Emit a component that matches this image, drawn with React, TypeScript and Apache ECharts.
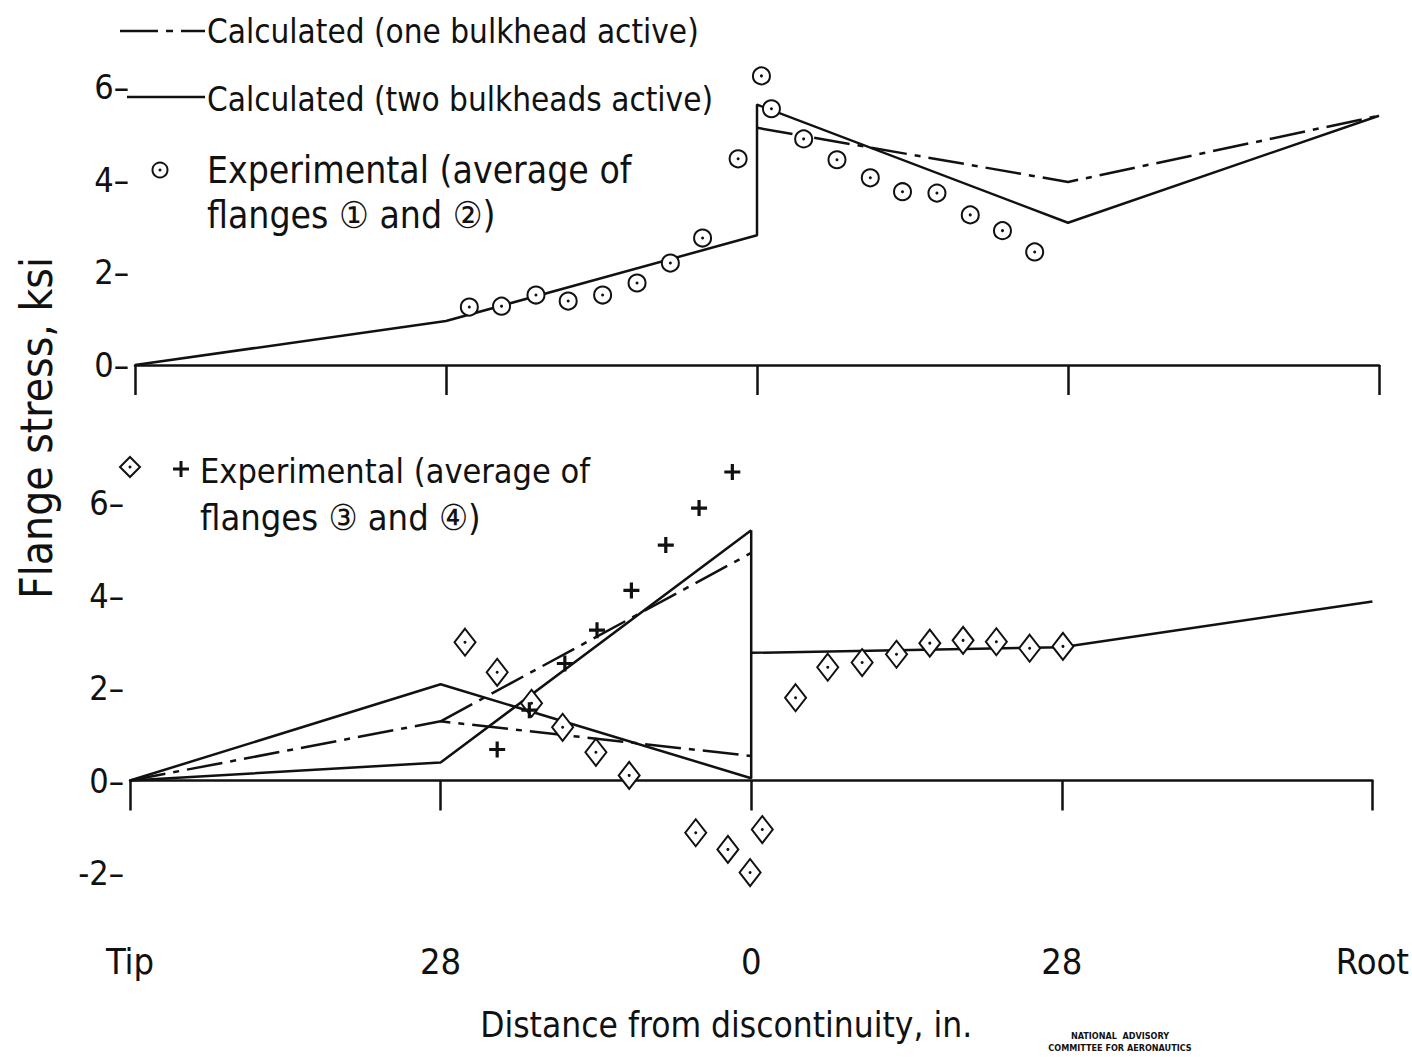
import React, { useEffect, useRef } from "react";
import * as echarts from "echarts";

// ---------- axes ----------
const xTicks = [-56, -28, 0, 28, 56];
const xTickLabels = ["Tip", "28", "0", "28", "Root"];
const topYRange = [0, 6];
const botYRange = [-2, 6];
const yInterval = 2;

// ---------- top panel (flanges 1 and 2) ----------
const topTwoX = [-56, -28, 0, 0, 28, 56];
const topTwoY = [0, 0.95, 2.8, 5.62, 3.07, 5.38];
const topOneX = [0, 28, 56];
const topOneY = [5.12, 3.95, 5.38];
const topExpX = [-25.9, -23.0, -19.9, -17.0, -13.9, -10.8, -7.8, -4.9, -1.7, 0.4, 1.3, 4.2, 7.2, 10.2, 13.1, 16.2, 19.2, 22.1, 25.0];
const topExpY = [1.25, 1.27, 1.51, 1.38, 1.51, 1.77, 2.2, 2.74, 4.45, 6.24, 5.53, 4.88, 4.43, 4.04, 3.74, 3.71, 3.24, 2.9, 2.44];

// ---------- bottom panel (flanges 3 and 4) ----------
const botTwoAX = [-56, -28, 0, 0];
const botTwoAY = [0, 2.08, 0.05, 5.41];
const botTwoBX = [-56, -28, 0];
const botTwoBY = [0, 0.39, 5.41];
const botTwoRightX = [0, 28, 56];
const botTwoRightY = [2.76, 2.88, 3.87];
const botOneAX = [-56, -28, 0];
const botOneAY = [0, 1.28, 0.53];
const botOneBX = [-28, 0];
const botOneBY = [1.28, 4.92];
const botDiamondX = [-25.8, -22.9, -19.8, -17.0, -14.0, -11.0, -5.0, -2.1, -0.1, 1.0, 4.0, 6.9, 10.0, 13.1, 16.1, 19.1, 22.1, 25.1, 28.1];
const botDiamondY = [2.99, 2.34, 1.67, 1.15, 0.61, 0.11, -1.13, -1.49, -1.99, -1.06, 1.79, 2.45, 2.55, 2.73, 2.97, 3.03, 3.0, 2.86, 2.9];
const botPlusX = [-22.9, -20.0, -16.8, -13.9, -10.8, -7.7, -4.7, -1.7];
const botPlusY = [0.67, 1.52, 2.53, 3.25, 4.11, 5.09, 5.89, 6.67];

const FONT = "'DejaVu Sans Condensed', 'DejaVu Sans', sans-serif";
const INK = "#111";
const DASHDOT = [36, 8, 6, 8];
const PLUS = "path://M4,0H6V4H10V6H6V10H4V6H0V4H4Z";

const pairs = (xs: number[], ys: number[]) => xs.map((x, i) => [x, ys[i]]);

function lineSeries(name: string, xs: number[], ys: number[], idx: number, dashed: boolean) {
  return {
    name,
    type: "line",
    xAxisIndex: idx,
    yAxisIndex: idx,
    data: pairs(xs, ys),
    symbol: "none",
    clip: false,
    silent: true,
    lineStyle: { color: INK, width: 2.5, type: dashed ? DASHDOT : "solid" },
  };
}

function label(text: string, x: number, y: number, size: number) {
  return {
    type: "text",
    x,
    y,
    style: { text, fontFamily: FONT, fontSize: size, fill: INK, verticalAlign: "middle" },
  };
}

function App() {
  const ref = useRef<HTMLDivElement>(null);

  useEffect(() => {
    if (!ref.current) return;
    const chart = echarts.init(ref.current, null, { renderer: "svg" });

    const yAxisCommon = {
      type: "value",
      interval: yInterval,
      axisLine: { show: false },
      axisTick: { show: false },
      splitLine: { show: false },
      axisLabel: {
        color: INK,
        fontFamily: FONT,
        fontSize: 34,
        margin: 6,
        formatter: (v: number) => `${v}–`,
      },
    };
    const xAxisCommon = {
      type: "value",
      min: xTicks[0],
      max: xTicks[xTicks.length - 1],
      interval: 28,
      splitLine: { show: false },
      axisLabel: { show: false },
      axisLine: { show: true, onZero: true, lineStyle: { color: INK, width: 2.5 } },
      axisTick: { show: true, length: 30, lineStyle: { color: INK, width: 2.5 } },
    };

    const scatter = (name: string, xs: number[], ys: number[], idx: number, symbol: string, size: any, fill: string, border: number) => ({
      name,
      type: "scatter",
      xAxisIndex: idx,
      yAxisIndex: idx,
      data: pairs(xs, ys),
      symbol,
      symbolSize: size,
      clip: false,
      silent: true,
      z: 3,
      itemStyle: { color: fill, borderColor: INK, borderWidth: border, opacity: 1 },
    });

    const option = {
      animation: false,
      backgroundColor: "#fff",
      grid: [
        { left: 135, right: 33, top: 87, height: 278 },
        { left: 130, right: 37, top: 503, height: 370 },
      ],
      xAxis: [
        { ...xAxisCommon, gridIndex: 0 },
        { ...xAxisCommon, gridIndex: 1 },
        {
          type: "value",
          gridIndex: 1,
          position: "bottom",
          min: xTicks[0],
          max: xTicks[xTicks.length - 1],
          interval: 28,
          splitLine: { show: false },
          axisLine: { show: false, onZero: false },
          axisTick: { show: false },
          axisLabel: {
            color: INK,
            fontFamily: FONT,
            fontSize: 36,
            margin: 70,
            formatter: (v: number) => xTickLabels[xTicks.indexOf(v)] ?? "",
          },
          name: "Distance from discontinuity, in.",
          nameLocation: "middle",
          nameGap: 134,
          nameTextStyle: { color: INK, fontFamily: FONT, fontSize: 35, padding: [0, 50, 0, 0] },
        },
      ],
      yAxis: [
        { ...yAxisCommon, gridIndex: 0, min: topYRange[0], max: topYRange[1] },
        { ...yAxisCommon, gridIndex: 1, min: botYRange[0], max: botYRange[1] },
      ],
      series: [
        lineSeries("Calculated (two bulkheads active)", topTwoX, topTwoY, 0, false),
        lineSeries("Calculated (one bulkhead active)", topOneX, topOneY, 0, true),
        lineSeries("Calculated two bulkheads, flange 3", botTwoAX, botTwoAY, 1, false),
        lineSeries("Calculated two bulkheads, flange 4", botTwoBX, botTwoBY, 1, false),
        lineSeries("Calculated two bulkheads, root side", botTwoRightX, botTwoRightY, 1, false),
        lineSeries("Calculated one bulkhead, flange 3", botOneAX, botOneAY, 1, true),
        lineSeries("Calculated one bulkhead, flange 4", botOneBX, botOneBY, 1, true),
        scatter("Experimental flanges 1 and 2", topExpX, topExpY, 0, "circle", 17, "#fff", 2),
        { ...scatter("dots 1-2", topExpX, topExpY, 0, "circle", 3, INK, 0), z: 4 },
        scatter("Experimental flange 3", botDiamondX, botDiamondY, 1, "diamond", [21, 27], "#fff", 2),
        { ...scatter("dots 3", botDiamondX, botDiamondY, 1, "circle", 3, INK, 0), z: 4 },
        scatter("Experimental flange 4", botPlusX, botPlusY, 1, PLUS, 16, INK, 0),
      ],
      graphic: [
        // top legend
        { type: "line", shape: { x1: 120, y1: 31, x2: 205, y2: 31 }, style: { stroke: INK, lineWidth: 2.5, lineDash: [38, 8, 7, 8] } },
        label("Calculated (one bulkhead active)", 207, 31, 33),
        { type: "line", shape: { x1: 127, y1: 97, x2: 205, y2: 97 }, style: { stroke: INK, lineWidth: 2.5 } },
        label("Calculated (two bulkheads active)", 207, 99, 33),
        { type: "circle", shape: { cx: 160, cy: 170, r: 7.5 }, style: { fill: "#fff", stroke: INK, lineWidth: 2 } },
        { type: "circle", shape: { cx: 160, cy: 170, r: 1.5 }, style: { fill: INK } },
        label("Experimental (average of", 207, 170, 37),
        label("flanges ① and ②)", 207, 215, 37),
        // bottom legend
        { type: "polygon", shape: { points: [[130, 457], [140, 467], [130, 477], [120, 467]] }, style: { fill: "#fff", stroke: INK, lineWidth: 2 } },
        { type: "circle", shape: { cx: 130, cy: 467, r: 1.5 }, style: { fill: INK } },
        { type: "line", shape: { x1: 173, y1: 469, x2: 189, y2: 469 }, style: { stroke: INK, lineWidth: 3 } },
        { type: "line", shape: { x1: 181, y1: 461, x2: 181, y2: 477 }, style: { stroke: INK, lineWidth: 3 } },
        label("Experimental (average of", 200, 471, 34),
        label("flanges ③ and ④)", 200, 517, 36),
        // y axis title
        {
          type: "text",
          x: 36,
          y: 428,
          rotation: Math.PI / 2,
          style: { text: "Flange stress, ksi", fontFamily: FONT, fontSize: 44, fill: INK, align: "center", verticalAlign: "middle" },
        },
        // stamp
        { type: "text", x: 1120, y: 1036, style: { text: "NATIONAL  ADVISORY", fontFamily: FONT, fontSize: 9, fontWeight: "bold", fill: INK, align: "center", verticalAlign: "middle" } },
        { type: "text", x: 1120, y: 1048, style: { text: "COMMITTEE FOR AERONAUTICS", fontFamily: FONT, fontSize: 9, fontWeight: "bold", fill: INK, align: "center", verticalAlign: "middle" } },
      ],
    };

    chart.setOption(option as any);
    return () => chart.dispose();
  }, []);

  return <div ref={ref} style={{ position: "absolute", left: 0, top: 0, width: 1412, height: 1057, background: "#fff" }} />;
}

export default App;
